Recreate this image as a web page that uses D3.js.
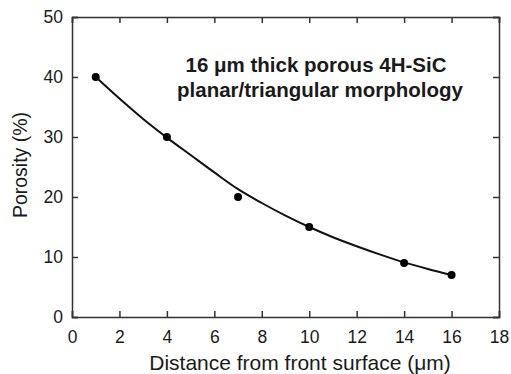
<!DOCTYPE html>
<html>
<head>
<meta charset="utf-8">
<script src="https://cdn.jsdelivr.net/npm/d3@7"></script>
<style>
    body { margin: 0; background: white; }
    text { font-family: "Liberation Sans", Arial, sans-serif; fill: #1a1a1a; }
</style>
</head>
<body>
<div id="chart"></div>
<script>
// Measured points
const depth = [1, 4, 7, 10, 14, 16];
const porosity = [40, 30, 20, 15, 9, 7];

// Fitted curve
const curveX = [1, 2, 3, 4, 5, 6, 7, 8, 9, 10, 11, 12, 13, 14, 15, 16];
const curveY = [40, 36.4, 33.0, 29.9, 27.0, 24.1, 21.3, 19.0, 16.9, 15.0, 13.3, 11.8, 10.4, 9.1, 8.0, 7.0];

const xTicks = [0, 2, 4, 6, 8, 10, 12, 14, 16, 18];
const yTicks = [0, 10, 20, 30, 40, 50];

// Set the dimensions and margins of the graph
const margin = { top: 17, right: 12, bottom: 57, left: 72 };
const width = 511 - margin.left - margin.right;
const height = 374 - margin.top - margin.bottom;

const svg = d3.select("#chart")
    .append("svg")
    .attr("width", 511)
    .attr("height", 374)
    .append("g")
    .attr("transform", `translate(${margin.left},${margin.top})`);

const x = d3.scaleLinear().domain([0, 18]).range([0, width]);
const y = d3.scaleLinear().domain([0, 50]).range([height, 0]);

const axisColor = "#333";

// Axes with inward ticks
const bottomAxis = svg.append("g")
    .attr("transform", `translate(0,${height})`)
    .call(d3.axisBottom(x).tickValues(xTicks).tickSize(-6).tickPadding(14));

const leftAxis = svg.append("g")
    .call(d3.axisLeft(y).tickValues(yTicks).tickSize(-6).tickPadding(9));

const topAxis = svg.append("g")
    .call(d3.axisTop(x).tickValues(xTicks).tickSize(-6).tickFormat(""));

const rightAxis = svg.append("g")
    .attr("transform", `translate(${width},0)`)
    .call(d3.axisRight(y).tickValues(yTicks).tickSize(-6).tickFormat(""));

[bottomAxis, leftAxis, topAxis, rightAxis].forEach(g => {
    g.select(".domain").attr("stroke", axisColor).attr("stroke-width", 1.5);
    g.selectAll(".tick line").attr("stroke", axisColor).attr("stroke-width", 1.5);
    g.selectAll(".tick text")
        .attr("font-size", 17.5)
        .attr("font-family", "Liberation Sans, Arial, sans-serif")
        .attr("fill", "#1a1a1a");
});

// Fitted curve
const curveData = curveX.map((d, i) => ({ x: d, y: curveY[i] }));
svg.append("path")
    .datum(curveData)
    .attr("fill", "none")
    .attr("stroke", "#111")
    .attr("stroke-width", 2)
    .attr("d", d3.line()
        .x(d => x(d.x))
        .y(d => y(d.y))
        .curve(d3.curveMonotoneX));

// Data points
svg.selectAll(".dot")
    .data(depth.map((d, i) => ({ x: d, y: porosity[i] })))
    .join("circle")
    .attr("class", "dot")
    .attr("cx", d => x(d.x))
    .attr("cy", d => y(d.y))
    .attr("r", 4)
    .attr("fill", "#000");

// Annotation
const note = svg.append("text")
    .attr("y", 55)
    .attr("text-anchor", "middle")
    .attr("font-size", 20.5)
    .attr("font-weight", "bold");
note.append("tspan").attr("x", 244).text("16 μm thick porous 4H-SiC");
note.append("tspan").attr("x", 248).attr("dy", 25).text("planar/triangular morphology");

// Axis titles
svg.append("text")
    .attr("x", 228)
    .attr("y", height + 53)
    .attr("text-anchor", "middle")
    .attr("font-size", 21)
    .text("Distance from front surface (μm)");

svg.append("text")
    .attr("transform", `translate(${-45},${148}) rotate(-90)`)
    .attr("text-anchor", "middle")
    .attr("font-size", 19.5)
    .text("Porosity (%)");
</script>
</body>
</html>
